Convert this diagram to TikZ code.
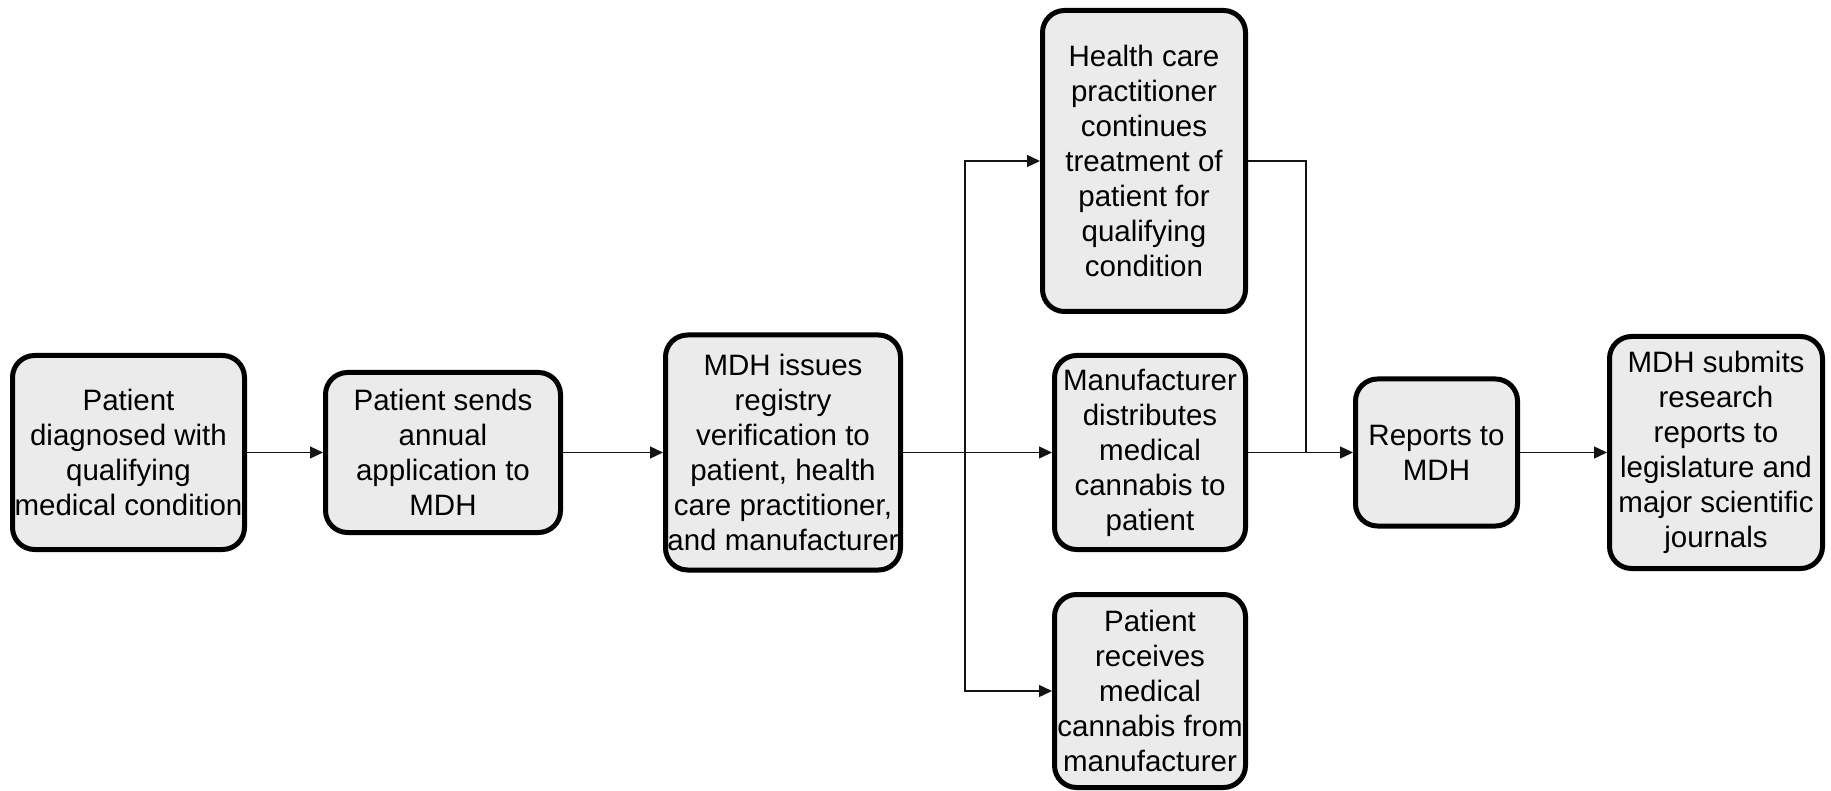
\documentclass[tikz,border=0pt]{standalone}
\usepackage{fontspec}
\setmainfont{Liberation Sans}
\usetikzlibrary{arrows.meta}
\definecolor{boxfill}{RGB}{235,235,235}
\definecolor{linecol}{RGB}{20,20,20}
\begin{document}
\begin{tikzpicture}[x=1pt,y=-1pt,
  stepbox/.style={draw=black, line width=5pt, fill=boxfill, rounded corners=22pt,
    align=center, inner sep=0pt, font=\fontsize{29.5}{35}\selectfont},
  conn/.style={draw=linecol, line width=1.3pt, -{Triangle[length=13pt,width=12pt]}},
  plain/.style={draw=linecol, line width=1.3pt}]
\useasboundingbox (0,0) rectangle (1831,791);
\node[stepbox, minimum width=232pt, minimum height=194pt] (b1) at (128.5,452.5)
  {Patient\\diagnosed with\\qualifying\\medical condition};
\node[stepbox, minimum width=235pt, minimum height=160pt] (b2) at (443,452.5)
  {Patient sends\\annual\\application to\\MDH};
\node[stepbox, minimum width=235pt, minimum height=235pt] (b3) at (783,452.5)
  {MDH issues\\registry\\verification to\\patient, health\\care practitioner,\\and manufacturer};
\node[stepbox, minimum width=203pt, minimum height=301pt] (b4) at (1144,161)
  {Health care\\practitioner\\continues\\treatment of\\patient for\\qualifying\\condition};
\node[stepbox, minimum width=191pt, minimum height=194pt] (b5) at (1150,452.5)
  {Manufacturer\\distributes\\medical\\cannabis to\\patient};
\node[stepbox, minimum width=191pt, minimum height=193pt] (b6) at (1150,691)
  {Patient\\receives\\medical\\cannabis from\\manufacturer};
\node[stepbox, minimum width=162pt, minimum height=147pt] (b7) at (1436.5,452.5)
  {Reports to\\MDH};
\node[stepbox, minimum width=213pt, minimum height=232pt] (b8) at (1716,452.5)
  {MDH submits\\research\\reports to\\legislature and\\major scientific\\journals};
\coordinate (split) at (965,452.5);
\coordinate (merge) at (1306,452.5);
\draw[conn] (b1) -- (b2);
\draw[conn] (b2) -- (b3);
\draw[plain] (b3.east) -- (split);
\draw[conn] (split) -- (b5.west);
\draw[conn] (split) |- (b4.west);
\draw[conn] (split) |- (b6.west);
\draw[plain] (b4.east) -| (merge);
\draw[conn] (b5.east) -- (b7.west);
\draw[conn] (b7) -- (b8);
\end{tikzpicture}
\end{document}
